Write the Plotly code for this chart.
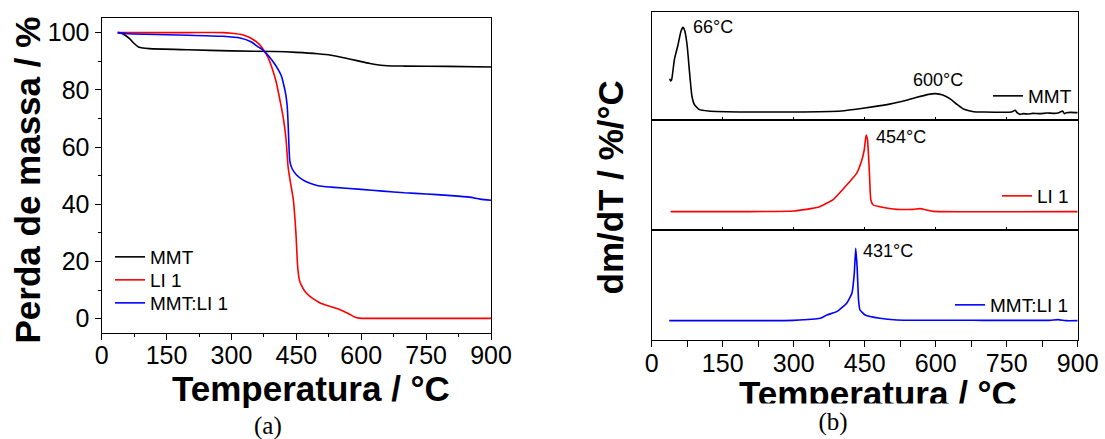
import plotly.graph_objects as go

# ---------------- TGA (mass loss) ----------------
temp_mmt = [37, 45, 55, 65, 75, 85, 95, 110, 200, 300, 400, 450, 500, 530, 560, 590,
            620, 645, 660, 700, 800, 900]
mass_mmt = [100, 99.8, 99.0, 97.8, 96.2, 95.0, 94.6, 94.4, 94.0, 93.6, 93.4, 93.1, 92.6,
            92.1, 91.2, 90.2, 89.2, 88.6, 88.4, 88.3, 88.2, 88.0]

temp_li1 = [37, 100, 200, 280, 300, 320, 335, 350, 365, 374, 385, 393, 403, 412, 420, 426,
            431, 437, 443, 449, 453, 457, 461, 470, 480, 495, 505, 530, 550, 570, 585, 595,
            620, 900]
mass_li1 = [100, 100, 100, 100, 99.8, 99.4, 98.7, 97.6, 95.8, 94.0, 91.2, 88.0, 83.0, 76.5,
            70.0, 63.0, 53.0, 47.0, 41.6, 29.9, 18.3, 13.5, 11.9, 9.5, 8.0, 6.4, 5.5, 4.2,
            3.2, 1.8, 0.6, 0.2, 0.1, 0.1]

temp_mix = [37, 60, 100, 200, 280, 320, 345, 360, 372, 385, 400, 410, 416, 422, 426, 429,
            431, 433, 435, 440, 450, 465, 480, 500, 530, 600, 650, 700, 750, 800, 850, 875, 900]
mass_mix = [100, 99.6, 99.4, 99.1, 98.7, 98.1, 96.8, 95.2, 94.0, 92.0, 89.0, 86.5, 84.6,
            81.0, 78.0, 74.0, 68.0, 60.0, 55.0, 52.5, 50.3, 48.5, 47.4, 46.5, 46.0, 45.2,
            44.6, 44.0, 43.6, 43.1, 42.5, 41.8, 41.4]

# ---------------- DTG (derivative, arbitrary offsets per panel) ----------------
dtg_t_mmt = [38, 40, 42, 48, 55, 62, 66, 70, 75, 80, 85, 90, 100, 120, 200, 300, 400, 450,
             500, 530, 560, 585, 600, 615, 630, 645, 660, 680, 700, 760, 768, 772, 778, 785,
             795, 805, 820, 835, 850, 860, 868, 872, 876, 885, 900]
dtg_v_mmt = [1.02, 0.95, 0.98, 1.6, 2.0, 2.45, 2.56, 2.45, 2.0, 1.2, 0.5, 0.25, 0.1, 0.05,
             0.02, 0.02, 0.05, 0.14, 0.25, 0.34, 0.46, 0.55, 0.57, 0.53, 0.42, 0.25, 0.1,
             0.03, 0.02, 0.02, 0.07, 0.0, -0.05, -0.03, -0.04, -0.02, -0.03, -0.01, -0.02,
             0.0, 0.05, -0.03, 0.0, 0.01, 0.0]

dtg_t_li1 = [40, 200, 300, 352, 384, 412, 433, 444, 449, 453, 456, 460, 463, 468, 482, 518,
             553, 567, 581, 595, 900]
dtg_v_li1 = [0.0, 0.0, 0.02, 0.13, 0.37, 0.80, 1.15, 1.55, 1.85, 2.30, 2.15, 1.15, 0.35,
             0.20, 0.15, 0.07, 0.07, 0.09, 0.05, 0.01, 0.0]

dtg_t_mix = [37, 200, 300, 356, 370, 391, 412, 423, 428, 431, 434, 437, 440, 451, 482, 518,
             700, 840, 859, 875, 900]
dtg_v_mix = [0.0, 0.0, 0.01, 0.07, 0.17, 0.27, 0.52, 0.82, 1.42, 2.17, 1.6, 0.62, 0.32,
             0.17, 0.07, 0.02, 0.01, 0.01, 0.03, 0.0, 0.0]

peak_labels = [("66°C", 66), ("600°C", 600), ("454°C", 454), ("431°C", 431)]

W, H = 1105, 439
BLACK, RED, BLUE = "#000000", "#ff0000", "#0000ff"
FONT = "Arial, Liberation Sans, sans-serif"


def px(x):
    return x / W


def py(y):
    return 1 - y / H


fig = go.Figure()

# left panel: each curve gets its own one-row legend so rows can be spaced tightly
for t, m, c, n, lg in [(temp_mmt, mass_mmt, BLACK, "MMT", "legend"),
                       (temp_li1, mass_li1, RED, "LI 1", "legend5"),
                       (temp_mix, mass_mix, BLUE, "MMT:LI 1", "legend6")]:
    fig.add_trace(go.Scatter(x=t, y=m, mode="lines", name=n,
                             line=dict(color=c, width=1.6, shape="spline", smoothing=0.6),
                             xaxis="x", yaxis="y", legend=lg))

# right stacked panels
fig.add_trace(go.Scatter(x=dtg_t_mmt, y=dtg_v_mmt, mode="lines", name="MMT",
                         line=dict(color=BLACK, width=1.6, shape="spline", smoothing=0.5),
                         xaxis="x2", yaxis="y2", legend="legend2"))
fig.add_trace(go.Scatter(x=dtg_t_li1, y=dtg_v_li1, mode="lines", name="LI 1",
                         line=dict(color=RED, width=1.6, shape="spline", smoothing=0.4),
                         xaxis="x3", yaxis="y3", legend="legend3"))
fig.add_trace(go.Scatter(x=dtg_t_mix, y=dtg_v_mix, mode="lines", name="MMT:LI 1",
                         line=dict(color=BLUE, width=1.6, shape="spline", smoothing=0.4),
                         xaxis="x4", yaxis="y4", legend="legend4"))

axis_common = dict(showline=True, mirror=True, linecolor="black", linewidth=1.4,
                   showgrid=False, zeroline=False, automargin=False,
                   tickfont=dict(family=FONT, size=25, color="black"))

xl = dict(axis_common, domain=[px(101.7), px(491)], range=[0, 900], dtick=150, tick0=0,
          ticks="outside", ticklen=6, tickwidth=1.2, tickcolor="black", ticklabelstandoff=-6,
          minor=dict(dtick=75, ticks="outside", ticklen=3, tickcolor="black"), anchor="y")
yl = dict(axis_common, domain=[py(333), py(18.3)], range=[-5, 105], dtick=20, tick0=0,
          ticks="outside", ticklen=6, tickwidth=1.2, tickcolor="black",
          minor=dict(dtick=10, ticks="outside", ticklen=3, tickcolor="black"), anchor="x")

rx = [px(651.7), px(1077.7)]
panels = [(11.7, 120, [-0.22, 3.03]), (120, 230, [-0.55, 2.75]), (230, 340, [-0.58, 2.72])]

layout_axes = {"xaxis": xl, "yaxis": yl}
for i, (top, bot, yr) in enumerate(panels):
    k = i + 2
    last = (i == 2)
    xa = dict(axis_common, domain=rx, range=[0, 900], dtick=150, tick0=0, anchor=f"y{k}",
              showticklabels=last, ticks="outside" if last else "inside",
              ticklen=6 if last else 3, tickwidth=1.2, tickcolor="black",
              minor=dict(dtick=75, ticks="outside" if last else "", ticklen=6, tickcolor="black"))
    if last:
        xa["ticklabelstandoff"] = -5
    ya = dict(axis_common, domain=[py(bot), py(top)], range=yr, anchor=f"x{k}",
              showticklabels=False, ticks="")
    layout_axes[f"xaxis{k}"] = xa
    layout_axes[f"yaxis{k}"] = ya

leg_font = dict(family=FONT, size=19, color="black")


def legend_at(x, y, anchor="middle"):
    return dict(x=px(x), y=py(y), xanchor="left", yanchor=anchor, bgcolor="rgba(0,0,0,0)",
                font=leg_font, borderwidth=0, tracegroupgap=0, itemclick=False)


title_font = dict(family=FONT, size=35, color="black")
serif_font = dict(family="Times New Roman, Liberation Serif, serif", size=25, color="black")
annotations = [
    dict(text="<b>Perda de massa / %</b>", x=px(27), y=py(180.5), textangle=-90, font=title_font),
    dict(text="<b>Temperatura / °C</b>", x=px(311), y=py(388), font=title_font),
    dict(text="<b>dm/dT / %/°C</b>", x=px(610), y=py(187.5), textangle=-90, font=title_font),
    dict(text="<b>Temperatura / °C</b>", x=px(878), y=py(393), font=title_font),
    dict(text="(a)", x=px(268), y=py(426), font=serif_font),
    # "(b)" sits on a white strip that trims the foot of the axis title above it
    dict(text="(b)", x=px(833), y=py(422), bgcolor="white", width=420, height=34, font=serif_font),
]
for a in annotations:
    a.update(xref="paper", yref="paper", showarrow=False, xanchor="center", yanchor="middle")

# peak temperature labels, placed next to their peaks
label_pos = {"66°C": ("x2", "y2", 2.56, 8, 0), "600°C": ("x2", "y2", 0.57, -25, -14),
             "454°C": ("x3", "y3", 2.30, 7, 2), "431°C": ("x4", "y4", 2.17, 5, 3)}
for text, t in peak_labels:
    xr, yr, v, dx, dy = label_pos[text]
    annotations.append(dict(text=text, x=t, y=v, xref=xr, yref=yr, showarrow=False,
                            xanchor="left", yanchor="middle", xshift=dx, yshift=-dy,
                            font=dict(family=FONT, size=18, color="black")))

fig.update_layout(
    width=W, height=H, margin=dict(l=0, r=0, t=0, b=0),
    paper_bgcolor="white", plot_bgcolor="white",
    showlegend=True,
    legend=legend_at(110, 257),
    legend5=legend_at(110, 280),
    legend6=legend_at(110, 303),
    legend2=legend_at(988, 96),
    legend3=legend_at(997, 196),
    legend4=legend_at(950, 305),
    annotations=annotations,
    **layout_axes,
)

fig.write_html("out.html")
